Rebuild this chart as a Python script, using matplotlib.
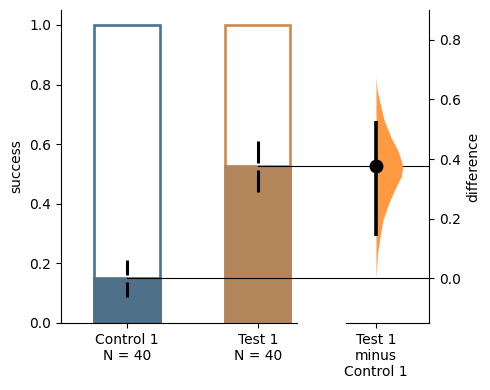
import numpy as np
import matplotlib
matplotlib.use("Agg")
import matplotlib.pyplot as plt

# raw data summary
groups = ["Control 1", "Test 1"]
sizes = [40, 40]
proportions = [0.15, 0.525]
half_err = [0.062, 0.085]

# bootstrap contrast
delta_label = "Test 1\nminus\nControl 1"
delta = 0.375
ci = [0.142, 0.528]
violin_diff = [0.0, 0.028, 0.085, 0.139, 0.196, 0.253, 0.306, 0.340, 0.373,
               0.397, 0.431, 0.474, 0.531, 0.588, 0.632, 0.676]
violin_dens = [0.0, 0.02, 0.06, 0.15, 0.26, 0.48, 0.74, 0.93, 1.0,
               0.93, 0.80, 0.55, 0.30, 0.15, 0.04, 0.0]

edge_cols = ["#4a7294", "#cc8a4e"]
fill_cols = ["#4f7089", "#b3855a"]
violin_col = "#ff9a42"

fig = plt.figure(figsize=(4.9, 3.9), dpi=100)
ax = fig.add_axes([61/490, 67/390, 236/490, 313/390])
ax2 = fig.add_axes([346/490, 67/390, 83/490, 313/390])
ax2.patch.set_visible(False)

x = np.arange(len(groups))
ax.bar(x, [1.0]*len(x), width=0.5, facecolor="white", edgecolor=edge_cols, lw=1.9, zorder=1)
ax.bar(x, proportions, width=0.5, color=fill_cols, edgecolor=fill_cols, lw=1.9, zorder=2)

gap = 0.012
for xi, p, e in zip(x, proportions, half_err):
    ax.plot([xi, xi], [p + gap, p + e], color="black", lw=2.2, solid_capstyle="butt", zorder=4)
    ax.plot([xi, xi], [p - e, p - gap], color="black", lw=2.2, solid_capstyle="butt", zorder=4)

ax.set_xlim(-0.505, 1.3)
ax.set_ylim(0, 1.05)
ax.set_xticks(x)
ax.set_xticklabels([f"{g}\nN = {n}" for g, n in zip(groups, sizes)])
ax.set_yticks(np.arange(0, 1.01, 0.2))
ax.set_ylabel("success")
ax.spines[["top", "right"]].set_visible(False)

# contrast axes, aligned so that 0 difference sits at the control proportion
base = proportions[0]
ax2.set_ylim(0 - base, 1.05 - base)
ax2.set_xlim(-0.229, 0.405)
vd = np.array(violin_diff)
vw = np.array(violin_dens) * 0.206
ax2.fill_betweenx(vd, 0, vw, color=violin_col, lw=0, zorder=1)
ax2.plot([0, 0], ci, color="black", lw=2.6, solid_capstyle="butt", zorder=3)
ax2.plot([0], [delta], "o", color="black", ms=9, zorder=4)
ax2.set_xticks([0])
ax2.set_xticklabels([delta_label])
ax2.set_yticks(np.arange(0, 0.81, 0.2))
ax2.yaxis.tick_right()
ax2.yaxis.set_label_position("right")
ax2.set_ylabel("difference")
ax2.spines[["top", "left"]].set_visible(False)

# reference lines from group means across to the contrast axes
fig.canvas.draw()
x_end = ax.transData.inverted().transform(ax2.transAxes.transform((1, 0)))[0]
ax.plot([x[0], x_end], [proportions[0]] * 2, color="black", lw=0.8, clip_on=False, zorder=5)
ax.plot([x[1], x_end], [proportions[1]] * 2, color="black", lw=0.8, clip_on=False, zorder=5)

fig.savefig("out.png", dpi=100)
